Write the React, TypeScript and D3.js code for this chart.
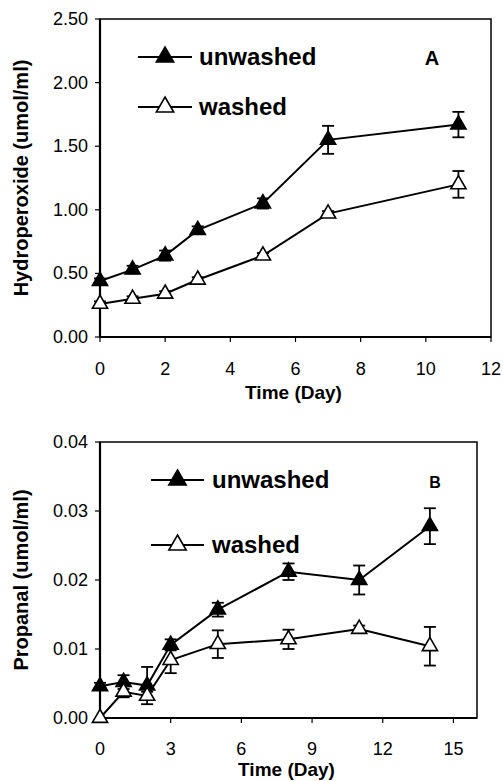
import React, { useEffect, useRef } from "react";
import * as d3 from "d3";

// panel A - hydroperoxide
const daysA = [0, 1, 2, 3, 5, 7, 11];
const unwashedA = [0.44, 0.53, 0.64, 0.84, 1.05, 1.55, 1.67];
const unwashedErrA = [0.02, 0.03, 0.04, 0.03, 0.04, 0.11, 0.1];
const washedA = [0.26, 0.3, 0.34, 0.45, 0.64, 0.97, 1.2];
const washedErrA = [0.02, 0.02, 0.02, 0.02, 0.02, 0.02, 0.105];
const xTicksA = [0, 2, 4, 6, 8, 10, 12];
const yTicksA = [0, 0.5, 1, 1.5, 2, 2.5];

// panel B - propanal
const daysB = [0, 1, 2, 3, 5, 8, 11, 14];
const unwashedB = [0.0046, 0.0052, 0.0047, 0.0106, 0.0157, 0.0212, 0.02, 0.0278];
const unwashedErrB = [0.0005, 0.001, 0.0027, 0.0008, 0.001, 0.0012, 0.0021, 0.0026];
const washedB = [0, 0.0038, 0.0032, 0.0084, 0.0107, 0.0114, 0.0129, 0.0104];
const washedErrB = [0, 0.0008, 0.0006, 0.0019, 0.002, 0.0014, 0.0005, 0.0028];
const xTicksB = [0, 3, 6, 9, 12, 15];
const yTicksB = [0, 0.01, 0.02, 0.03, 0.04];

const seriesNames = ["unwashed", "washed"];

const FONT = "'Liberation Sans', Arial, Helvetica, sans-serif";

type PanelCfg = {
  left: number; right: number; top: number; bottom: number;
  xMax: number; yMax: number; xTicks: number[]; yTicks: number[];
  days: number[]; unwashed: number[]; unwashedErr: number[];
  washed: number[]; washedErr: number[];
  yTitle: string; titleY: number; labelY: number;
  legendX: [number, number]; legendY: [number, number]; legendTextX: number;
  tag: string; tagX: number; tagY: number; tagSize: number;
};

function drawPanel(svg: any, c: PanelCfg) {
  const x = d3.scaleLinear().domain([0, c.xMax]).range([c.left, c.right]);
  const y = d3.scaleLinear().domain([0, c.yMax]).range([c.bottom, c.top]);
  const g = svg.append("g");

  // caixa
  g.append("rect")
    .attr("x", c.left).attr("y", c.top)
    .attr("width", c.right - c.left).attr("height", c.bottom - c.top)
    .attr("fill", "none").attr("stroke", "#000").attr("stroke-width", 1.5);
  g.append("line").attr("x1", c.left).attr("x2", c.left).attr("y1", c.top).attr("y2", c.bottom)
    .attr("stroke", "#000").attr("stroke-width", 2.2);
  g.append("line").attr("x1", c.left).attr("x2", c.right).attr("y1", c.bottom).attr("y2", c.bottom)
    .attr("stroke", "#000").attr("stroke-width", 2.2);

  // ticks
  c.xTicks.forEach((t) => {
    g.append("line").attr("x1", x(t)).attr("x2", x(t)).attr("y1", c.bottom).attr("y2", c.bottom + 5)
      .attr("stroke", "#000").attr("stroke-width", 1.2);
    g.append("text").attr("x", x(t)).attr("y", c.labelY).attr("text-anchor", "middle")
      .attr("font-family", FONT).attr("font-size", 18).text(t);
  });
  c.yTicks.forEach((t) => {
    g.append("line").attr("x1", c.left - 5).attr("x2", c.left).attr("y1", y(t)).attr("y2", y(t))
      .attr("stroke", "#000").attr("stroke-width", 1.2);
    g.append("text").attr("x", c.left - 12).attr("y", y(t) + 6).attr("text-anchor", "end")
      .attr("font-family", FONT).attr("font-size", 18).text(d3.format(".2f")(t));
  });

  // titulos
  g.append("text").attr("x", (c.left + c.right) / 2 - 2).attr("y", c.titleY).attr("text-anchor", "middle")
    .attr("font-family", FONT).attr("font-weight", "bold").attr("font-size", 19).text("Time (Day)");
  g.append("text").attr("transform", `translate(28, ${(c.top + c.bottom) / 2}) rotate(-90)`)
    .attr("text-anchor", "middle").attr("font-family", FONT).attr("font-weight", "bold")
    .attr("font-size", 20).text(c.yTitle);

  const line = d3.line<number>().x((_, i) => x(c.days[i])).y((d) => y(d));
  const tri = d3.symbol().type(d3.symbolTriangle).size(100);
  const triBig = d3.symbol().type(d3.symbolTriangle).size(130);

  const series = [
    { vals: c.unwashed, err: c.unwashedErr, fill: "#000" },
    { vals: c.washed, err: c.washedErr, fill: "#fff" },
  ];

  series.forEach((s) => {
    g.append("path").attr("d", line(s.vals)).attr("fill", "none")
      .attr("stroke", "#000").attr("stroke-width", 2);
  });
  series.forEach((s) => {
    s.vals.forEach((v, i) => {
      const e = s.err[i];
      if (e <= 0) return;
      const cx = x(c.days[i]);
      const eg = g.append("g").attr("stroke", "#000").attr("stroke-width", 1.8);
      eg.append("line").attr("x1", cx).attr("x2", cx).attr("y1", y(v - e)).attr("y2", y(v + e));
      eg.append("line").attr("x1", cx - 6).attr("x2", cx + 6).attr("y1", y(v + e)).attr("y2", y(v + e));
      eg.append("line").attr("x1", cx - 6).attr("x2", cx + 6).attr("y1", y(v - e)).attr("y2", y(v - e));
    });
  });
  series.forEach((s) => {
    s.vals.forEach((v, i) => {
      g.append("path").attr("d", tri())
        .attr("transform", `translate(${x(c.days[i])}, ${y(v)})`)
        .attr("fill", s.fill).attr("stroke", "#000").attr("stroke-width", 1.6);
    });
  });

  // legenda
  series.forEach((s, k) => {
    const ly = c.legendY[k];
    g.append("line").attr("x1", c.legendX[0]).attr("x2", c.legendX[1]).attr("y1", ly).attr("y2", ly)
      .attr("stroke", "#000").attr("stroke-width", 2);
    g.append("path").attr("d", triBig())
      .attr("transform", `translate(${(c.legendX[0] + c.legendX[1]) / 2}, ${ly})`)
      .attr("fill", s.fill).attr("stroke", "#000").attr("stroke-width", 1.6);
    g.append("text").attr("x", c.legendTextX).attr("y", ly + 8)
      .attr("font-family", FONT).attr("font-weight", "bold").attr("font-size", 24)
      .text(seriesNames[k]);
  });

  g.append("text").attr("x", c.tagX).attr("y", c.tagY).attr("text-anchor", "middle")
    .attr("font-family", FONT).attr("font-weight", "bold").attr("font-size", c.tagSize).text(c.tag);
}

const App = () => {
  const ref = useRef<SVGSVGElement>(null);

  useEffect(() => {
    const svg = d3.select(ref.current);
    svg.selectAll("*").remove();

    drawPanel(svg, {
      left: 100, right: 491, top: 19, bottom: 337,
      xMax: 12, yMax: 2.5, xTicks: xTicksA, yTicks: yTicksA,
      days: daysA, unwashed: unwashedA, unwashedErr: unwashedErrA,
      washed: washedA, washedErr: washedErrA,
      yTitle: "Hydroperoxide (umol/ml)", titleY: 399, labelY: 375,
      legendX: [138, 192], legendY: [57, 107], legendTextX: 199,
      tag: "A", tagX: 432, tagY: 65, tagSize: 20,
    });

    drawPanel(svg, {
      left: 100, right: 477, top: 442, bottom: 718,
      xMax: 16, yMax: 0.04, xTicks: xTicksB, yTicks: yTicksB,
      days: daysB, unwashed: unwashedB, unwashedErr: unwashedErrB,
      washed: washedB, washedErr: washedErrB,
      yTitle: "Propanal (umol/ml)", titleY: 776, labelY: 755,
      legendX: [151, 204], legendY: [480, 545], legendTextX: 212,
      tag: "B", tagX: 435, tagY: 488, tagSize: 16,
    });

    return () => {
      d3.select(ref.current).selectAll("*").remove();
    };
  }, []);

  return (
    <div style={{ position: "absolute", left: 0, top: 0, background: "#fff" }}>
      <svg ref={ref} width={503} height={781} style={{ display: "block" }}></svg>
    </div>
  );
};

export default App;
